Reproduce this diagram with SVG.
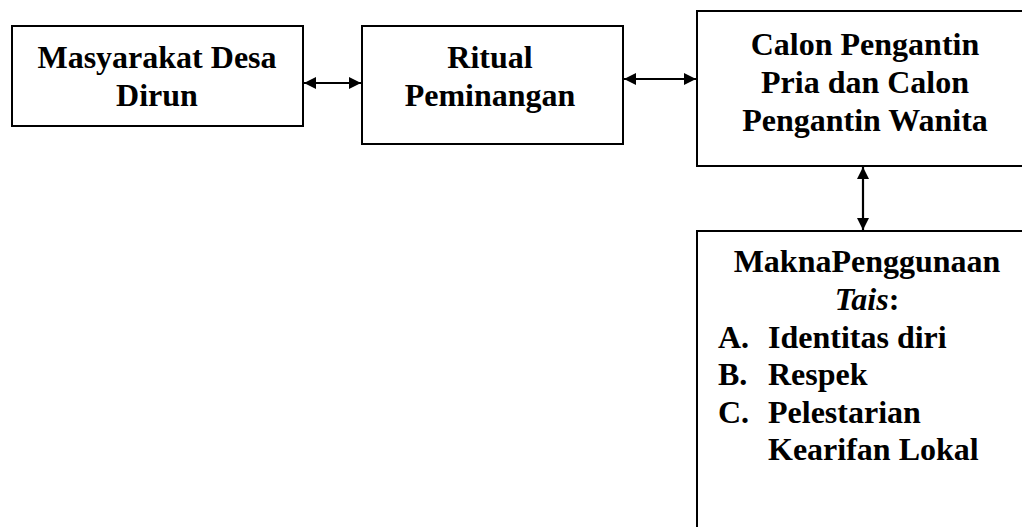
<svg xmlns="http://www.w3.org/2000/svg" width="1022" height="527" viewBox="0 0 1022 527">
<style>
.box{fill:#fff;stroke:#000;stroke-width:2}
.t{font-family:"Liberation Serif","Times New Roman",serif;font-weight:bold;font-size:32px;fill:#000}
.c{text-anchor:middle}
.conn{stroke:#000;stroke-width:2.2;fill:none}
</style>
<defs>
<marker id="ah" viewBox="0 0 10 10" refX="10" refY="5" markerWidth="14" markerHeight="12" markerUnits="userSpaceOnUse" orient="auto-start-reverse">
<path d="M0,0 L10,5 L0,10 Z" fill="#000"/>
</marker>
</defs>
<rect width="1022" height="527" fill="#fff"/>
<g id="connectors">
<line class="conn" x1="304" y1="83" x2="361" y2="83" marker-start="url(#ah)" marker-end="url(#ah)"/>
<line class="conn" x1="624" y1="79" x2="696" y2="79" marker-start="url(#ah)" marker-end="url(#ah)"/>
<line class="conn" x1="863" y1="167" x2="863" y2="230" marker-start="url(#ah)" marker-end="url(#ah)"/>
</g>
<g id="node-masyarakat">
<rect class="box" x="12" y="26" width="291" height="100"/>
<text class="t c" x="157" y="68">Masyarakat Desa</text>
<text class="t c" x="157" y="106">Dirun</text>
</g>
<g id="node-ritual">
<rect class="box" x="362" y="26" width="261" height="118"/>
<text class="t c" x="490" y="68">Ritual</text>
<text class="t c" x="490" y="106">Peminangan</text>
</g>
<g id="node-calon">
<rect class="box" x="697" y="11" width="340" height="155"/>
<text class="t c" x="865" y="55">Calon Pengantin</text>
<text class="t c" x="865" y="93">Pria dan Calon</text>
<text class="t c" x="865" y="131">Pengantin Wanita</text>
</g>
<g id="node-makna">
<rect class="box" x="697" y="231" width="340" height="320"/>
<text class="t c" x="867" y="272">MaknaPenggunaan</text>
<text class="t c" x="867" y="310"><tspan font-style="italic">Tais</tspan>:</text>
<text class="t" x="718" y="348">A.</text>
<text class="t" x="768" y="348">Identitas diri</text>
<text class="t" x="718" y="385">B.</text>
<text class="t" x="768" y="385">Respek</text>
<text class="t" x="718" y="423">C.</text>
<text class="t" x="768" y="423">Pelestarian</text>
<text class="t" x="768" y="460">Kearifan Lokal</text>
</g>
</svg>
